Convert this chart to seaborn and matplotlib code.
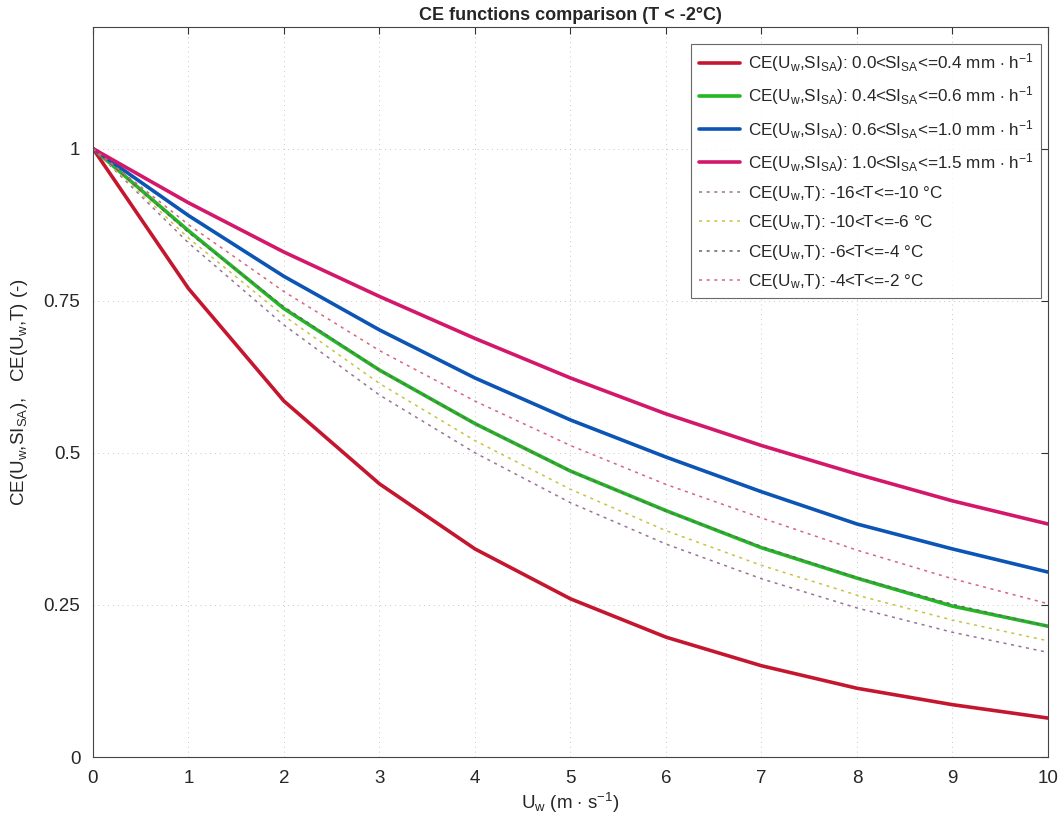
import numpy as np
import matplotlib
matplotlib.use("Agg")
import matplotlib.pyplot as plt
import seaborn as sns
import pandas as pd

# wind speed (m/s)
u_w = [0, 1, 2, 3, 4, 5, 6, 7, 8, 9, 10]

# CE(Uw, SI_SA) curves, solid
ce_si_00_04 = [1.0, 0.770, 0.585, 0.449, 0.342, 0.260, 0.197, 0.150, 0.113, 0.086, 0.064]
ce_si_04_06 = [1.0, 0.865, 0.737, 0.636, 0.548, 0.470, 0.405, 0.344, 0.294, 0.248, 0.215]
ce_si_06_10 = [1.0, 0.890, 0.790, 0.702, 0.623, 0.554, 0.493, 0.436, 0.383, 0.342, 0.304]
ce_si_10_15 = [1.0, 0.911, 0.830, 0.757, 0.688, 0.623, 0.564, 0.512, 0.465, 0.421, 0.383]

# CE(Uw, T) curves, dotted
ce_t_16_10 = [1.0, 0.845, 0.710, 0.595, 0.500, 0.418, 0.350, 0.293, 0.245, 0.205, 0.172]
ce_t_10_6 = [1.0, 0.853, 0.725, 0.614, 0.520, 0.440, 0.372, 0.315, 0.266, 0.225, 0.191]
ce_t_6_4 = [1.0, 0.862, 0.740, 0.636, 0.548, 0.470, 0.404, 0.346, 0.295, 0.251, 0.215]
ce_t_4_2 = [1.0, 0.875, 0.765, 0.668, 0.585, 0.512, 0.448, 0.393, 0.340, 0.293, 0.252]

si_label = r"CE(U$_\mathregular{w}$,SI$_\mathregular{SA}$): %s<SI$_\mathregular{SA}$<=%s mm $\cdot$ h$^\mathregular{-1}$"
t_label = r"CE(U$_\mathregular{w}$,T): %s<T<=%s °C"

solid_series = [
    (ce_si_00_04, si_label % ("0.0", "0.4"), "#c4172f"),
    (ce_si_04_06, si_label % ("0.4", "0.6"), "#22b822"),
    (ce_si_06_10, si_label % ("0.6", "1.0"), "#0d55b5"),
    (ce_si_10_15, si_label % ("1.0", "1.5"), "#d3186b"),
]
dotted_series = [
    (ce_t_16_10, t_label % ("-16", "-10"), "#9a7396"),
    (ce_t_10_6, t_label % ("-10", "-6"), "#c6c444"),
    (ce_t_6_4, t_label % ("-6", "-4"), "#6f5f72"),
    (ce_t_4_2, t_label % ("-4", "-2"), "#d8647f"),
]

sns.set_style("white")
plt.rcParams["font.family"] = ["Liberation Sans", "DejaVu Sans"]
plt.rcParams["mathtext.fontset"] = "custom"
plt.rcParams["mathtext.rm"] = "Liberation Sans"
plt.rcParams["mathtext.it"] = "Liberation Sans:italic"

fig = plt.figure(figsize=(10.59, 8.24), dpi=100)
ax = fig.add_axes([0.0878, 0.0813, 0.9018, 0.886])

for vals, lab, col in solid_series:
    sns.lineplot(x=u_w, y=vals, ax=ax, color=col, linewidth=2.6, label=lab)
for vals, lab, col in dotted_series:
    sns.lineplot(x=u_w, y=vals, ax=ax, color=col, linewidth=1.1,
                 linestyle=(0, (2, 3)), label=lab)

ax.set_xlim(0, 10)
ax.set_ylim(0, 1.2)
ax.set_xticks(range(0, 11))
ax.set_yticks([0, 0.25, 0.5, 0.75, 1])
ax.set_yticklabels(["0", "0.25", "0.5", "0.75", "1"])
ax.tick_params(direction="in", length=5, width=0.8, labelsize=13.5, pad=9,
               top=True, right=True, color="#333333")
ax.grid(True, color="#c8c8c8", linestyle=(0, (1, 4)), linewidth=0.7)
for sp in ax.spines.values():
    sp.set_color("#444444")
    sp.set_linewidth(0.8)

ax.set_title("CE functions comparison (T < -2°C)", fontsize=13,
             fontweight="bold", pad=5)
ax.set_xlabel(r"U$_\mathregular{w}$ (m $\cdot$ s$^\mathregular{-1}$)", fontsize=13.5,
              labelpad=3)
ax.set_ylabel(r"CE(U$_\mathregular{w}$,SI$_\mathregular{SA}$),   CE(U$_\mathregular{w}$,T) (-)",
              fontsize=13.5, labelpad=10)

leg = ax.legend(loc="upper right", bbox_to_anchor=(0.993, 0.977), fontsize=12.3,
                frameon=True, fancybox=False, edgecolor="#444444",
                handlelength=2.4, handletextpad=0.5, labelspacing=0.6,
                borderpad=0.45, borderaxespad=0)
leg.get_frame().set_linewidth(0.8)

fig.savefig("out.png", dpi=100)
